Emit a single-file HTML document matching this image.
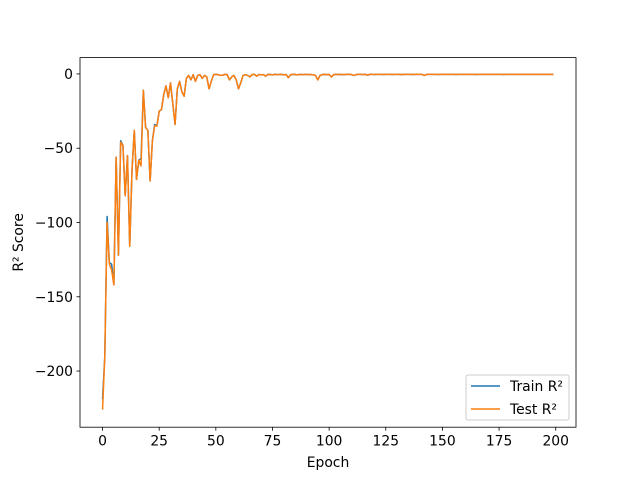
<!DOCTYPE html>
<html><head><meta charset="utf-8"><style>
body{margin:0;background:#fff}
svg{display:block;font-family:"DejaVu Sans","Liberation Sans",sans-serif}
</style></head><body>
<svg id="chart" width="640" height="480" viewBox="0 0 640 480" xmlns="http://www.w3.org/2000/svg">
<rect width="640" height="480" fill="#fff"/>
<g id="plot"></g>
</svg>
<script>
const xTicks=[0,25,50,75,100,125,150,175,200];
const yTicks=[0,-50,-100,-150,-200];
const testR2=[-226,-190,-100,-128,-132,-142,-56,-122,-46,-48,-82,-55,-116,-65,-38,-71,-58,-62,-11,-36,-38,-72,-45,-35,-35,-25,-24,-14,-8,-16,-6,-20,-34,-10,-5,-12,-15,-3,-1,-4,-0.5,-5,-1,-0.5,-3,-1,-2,-10,-5,-0.5,-0.3,-0.5,-1,-0.8,-0.3,-0.5,-4,-2,-1,-4,-10,-6,-1,-0.5,-1,-2,-0.5,-0.3,-1.5,-0.4,-0.6,-0.5,-1.5,-0.3,-0.4,-0.6,-0.3,-0.5,-0.4,-0.3,-0.6,-0.4,-2.5,-0.5,-0.3,-0.4,-0.6,-0.3,-0.5,-0.4,-0.3,-0.5,-0.4,-0.6,-1,-4,-1,-0.4,-0.3,-0.5,-0.4,-2,-0.5,-0.3,-0.4,-0.3,-0.5,-0.4,-0.3,-0.3,-0.5,-1,-0.4,-0.3,-0.3,-0.4,-0.3,-0.8,-0.3,-0.3,-0.4,-0.3,-0.3,-0.3,-0.4,-0.3,-0.3,-0.3,-0.4,-0.3,-0.3,-0.3,-0.5,-0.3,-0.3,-0.3,-0.3,-0.4,-0.3,-0.3,-0.3,-0.3,-1,-0.3,-0.3,-0.3,-0.3,-0.3,-0.4,-0.3,-0.3,-0.3,-0.3,-0.3,-0.3,-0.3,-0.4,-0.3,-0.3,-0.3,-0.3,-0.3,-0.3,-0.3,-0.3,-0.4,-0.3,-0.3,-0.3,-0.3,-0.3,-0.3,-0.3,-0.3,-0.3,-0.3,-0.3,-0.4,-0.3,-0.3,-0.3,-0.3,-0.3,-0.3,-0.3,-0.3,-0.3,-0.3,-0.3,-0.3,-0.3,-0.3,-0.3,-0.3,-0.3,-0.3,-0.3,-0.3,-0.3,-0.3,-0.3,-0.3,-0.3,-0.3,-0.3,-0.3].slice(0,200);
const trainR2=testR2.slice();
const trainOverrides=[[0,-219],[2,-96],[3,-127],[4,-128],[8,-45],[17,-57],[23,-34]];
trainOverrides.forEach(([i,v])=>{trainR2[i]=v;});

const L=80,R=576,T=57.6,B=427.2;
const xMin=-9.95,xMax=208.95,yMin=-237.8,yMax=11.0;
const xs=v=>L+(v-xMin)/(xMax-xMin)*(R-L);
const ys=v=>B-(v-yMin)/(yMax-yMin)*(B-T);
const NS="http://www.w3.org/2000/svg";
const g=document.getElementById('plot');
function mk(tag,attrs,parent){const e=document.createElementNS(NS,tag);for(const k in attrs)e.setAttribute(k,attrs[k]);(parent||g).appendChild(e);return e;}

function line(data,color,name){
  const d=data.map((v,i)=>(i?'L':'M')+xs(i).toFixed(2)+','+ys(v).toFixed(2)).join('');
  const p=mk('path',{d:d,fill:'none',stroke:color,'stroke-width':1.5,'stroke-linejoin':'round'});
  
  
}
line(trainR2,'#1f77b4','train-r2-line');
line(testR2,'#ff7f0e','test-r2-line');

const frame=mk('rect',{x:L,y:T,width:R-L,height:B-T,fill:'none',stroke:'#000','stroke-width':0.8});



const FS=13.9;
xTicks.forEach(t=>{
  const x=xs(t);
  mk('line',{x1:x,x2:x,y1:B,y2:B+3.5,stroke:'#000','stroke-width':0.8});
  const tx=mk('text',{x:x,y:B+18.5,'text-anchor':'middle','font-size':FS});
  tx.textContent=String(t);
  
  
});
yTicks.forEach(t=>{
  const y=ys(t);
  mk('line',{x1:L-3.5,x2:L,y1:y,y2:y,stroke:'#000','stroke-width':0.8});
  const tx=mk('text',{x:L-7,y:y+5,'text-anchor':'end','font-size':FS});
  tx.textContent=String(t).replace('-','\u2212');
  
  
});
const xl=mk('text',{x:(L+R)/2,y:467,'text-anchor':'middle','font-size':FS});
xl.textContent='Epoch';


const yl=mk('text',{x:0,y:0,'text-anchor':'middle','font-size':FS,transform:'translate(23,'+((T+B)/2)+') rotate(-90)'});
yl.textContent='R² Score';



const lg=mk('g',{});


mk('rect',{x:466,y:375,width:103,height:45,rx:2,fill:'#fff','fill-opacity':0.8,stroke:'#ccc','stroke-width':1},lg);
[['Train R²','#1f77b4',386],['Test R²','#ff7f0e',409]].forEach(([lab,c,y])=>{
  const e=mk('g',{},lg);
  
  
  mk('line',{x1:471,x2:500,y1:y,y2:y,stroke:c,'stroke-width':1.5},e);
  const t=mk('text',{x:510,y:y+5,'font-size':FS},e);
  t.textContent=lab;
});
</script>
</body></html>
